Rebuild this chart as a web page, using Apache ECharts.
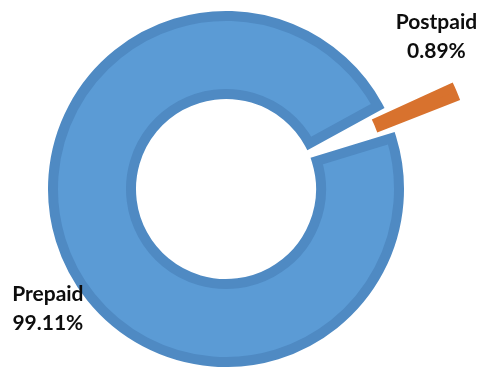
<!DOCTYPE html>
<html>
<head>
<meta charset="utf-8">
<script src="https://cdn.jsdelivr.net/npm/echarts@6/dist/echarts.min.js"></script>
<style>
  html, body { margin: 0; padding: 0; background: #ffffff; }
  #chart { width: 481px; height: 367px; }
</style>
</head>
<body>
<div id="chart"></div>
<script>
// Subscriber mix by plan type (percent of total)
const categories = ['Prepaid', 'Postpaid'];
const shares = [99.11, 0.89];
// Slices pulled out of the ring
const explodedSlices = ['Postpaid'];

const ringBlue = '#5B9BD5';
const ringEdge = '#4F8AC3';
const sliceOrange = '#D8722E';
const centre = [226, 189];

// nudges for the two data labels, keyed by category
const labelNudge = { Prepaid: [-13, 52], Postpaid: [-21, -56] };

const chart = echarts.init(document.getElementById('chart'), null, { renderer: 'canvas' });

const clear = { color: 'rgba(0,0,0,0)', borderWidth: 0 };

chart.setOption({
  animation: false,
  series: [
    {
      // main ring, opened up where the small slice has been pulled away
      type: 'pie',
      center: centre,
      radius: [95, 173],
      startAngle: 20,
      padAngle: 5.8,
      silent: true,
      avoidLabelOverlap: false,
      label: { show: false },
      labelLine: { show: false },
      data: categories.map((name, i) => ({
        name,
        value: shares[i],
        itemStyle: explodedSlices.includes(name)
          ? clear
          : { color: ringBlue, borderColor: ringEdge, borderWidth: 10, borderJoin: 'miter', borderMiterLimit: 20 }
      }))
    },
    {
      // exploded slice, plus the labels for every category
      type: 'pie',
      center: centre,
      radius: [94, 174],
      startAngle: 21.4,
      selectedMode: 'multiple',
      selectedOffset: 72,
      silent: true,
      avoidLabelOverlap: false,
      label: {
        show: true,
        position: 'outside',
        alignTo: 'none',
        formatter: '{b}\n{c}%',
        fontFamily: 'Lato, "Liberation Sans", sans-serif',
        fontWeight: 'bold',
        fontSize: 21,
        lineHeight: 29,
        color: '#0d0d0d'
      },
      labelLine: { show: false, length: 0, length2: 0 },
      labelLayout: function (params) {
        const n = labelNudge[categories[params.dataIndex]] || [0, 0];
        return { dx: n[0], dy: n[1], align: 'center', verticalAlign: 'middle' };
      },
      data: categories.map((name, i) => ({
        name,
        value: shares[i],
        selected: explodedSlices.includes(name),
        itemStyle: explodedSlices.includes(name)
          ? { color: sliceOrange, borderColor: sliceOrange, borderWidth: 9, borderJoin: 'miter', borderMiterLimit: 20 }
          : clear
      }))
    }
  ]
});
</script>
</body>
</html>
